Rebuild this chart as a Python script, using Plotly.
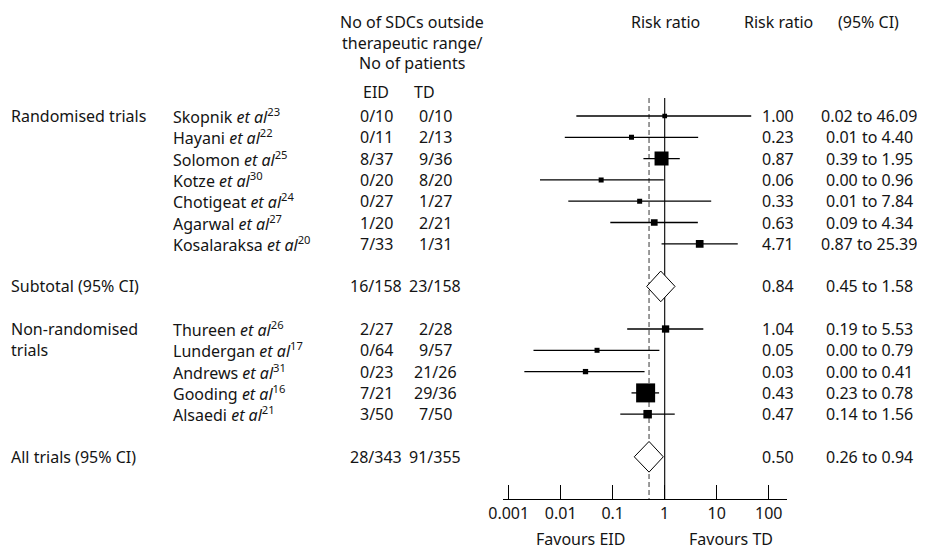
import plotly.graph_objects as go

# ---------------- data ----------------
rand_names = ["Skopnik", "Hayani", "Solomon", "Kotze", "Chotigeat", "Agarwal", "Kosalaraksa"]
rand_refs = [23, 22, 25, 30, 24, 27, 20]
rand_eid_n = [0, 0, 8, 0, 0, 1, 7]
rand_eid_N = [10, 11, 37, 20, 27, 20, 33]
rand_td_n = [0, 2, 9, 8, 1, 2, 1]
rand_td_N = [10, 13, 36, 20, 27, 21, 31]
rand_rr = [1.00, 0.23, 0.87, 0.06, 0.33, 0.63, 4.71]
rand_lo = [0.02, 0.012, 0.39, 0.004, 0.014, 0.09, 0.87]
rand_hi = [46.09, 4.40, 1.95, 0.96, 7.84, 4.34, 25.39]

nonrand_names = ["Thureen", "Lundergan", "Andrews", "Gooding", "Alsaedi"]
nonrand_refs = [26, 17, 31, 16, 21]
nonrand_eid_n = [2, 0, 0, 7, 3]
nonrand_eid_N = [27, 64, 23, 21, 50]
nonrand_td_n = [2, 9, 21, 29, 7]
nonrand_td_N = [28, 57, 26, 36, 50]
nonrand_rr = [1.04, 0.05, 0.03, 0.43, 0.47]
nonrand_lo = [0.19, 0.003, 0.002, 0.23, 0.14]
nonrand_hi = [5.53, 0.79, 0.41, 0.78, 1.56]

subtotal_counts = [16, 158, 23, 158]
subtotal_rr = [0.84, 0.45, 1.58]
total_counts = [28, 343, 91, 355]
total_rr = [0.50, 0.26, 0.94]

tick_values = [0.001, 0.01, 0.1, 1, 10, 100]
tick_labels = ["0.001", "0.01", "0.1", "1", "10", "100"]

# ---------------- style ----------------
rand_box = [4.7, 5, 14, 5, 5, 6.7, 7.7]
nonrand_box = [7.3, 5, 5.3, 19, 8.5]
FONT = "Noto Sans"
FS = 16
TXT = "#141414"
OX, OY = 8, 8               # page body margin offset
W, H = 925 - OX, 550 - OY
ROW0_PX, ROW_PX = 116, 21.3


def px_row(py):
    return (py - ROW0_PX) / ROW_PX


def px_x(px):
    return (px - OX) / W


# row layout
rand_rows = list(range(len(rand_names)))
sub_row = rand_rows[-1] + 2
nonrand_rows = [sub_row + 2 + i for i in range(len(nonrand_names))]
total_row = nonrand_rows[-1] + 2

fig = go.Figure()

annotations = []


def text(x_px, row, s, anchor="left", size=FS):
    annotations.append(dict(
        x=px_x(x_px), xref="paper", y=row, yref="y", text=s, showarrow=False,
        xanchor=anchor, yanchor="middle", borderpad=0,
        font=dict(family=FONT, size=size, color=TXT)))


def study_block(names, refs, en, eN, tn, tN, rr, lo, hi, rows, boxes):
    xs, ys = [], []
    for r, a, b in zip(rows, lo, hi):
        xs += [a, b, None]
        ys += [r, r, None]
    fig.add_trace(go.Scatter(x=xs, y=ys, mode="lines",
                             line=dict(color="black", width=1.3), hoverinfo="skip"))
    fig.add_trace(go.Scatter(x=rr, y=rows, mode="markers",
                             marker=dict(symbol="square", size=boxes, color="#000000",
                                         opacity=1, line=dict(width=0))))
    for i, r in enumerate(rows):
        text(172, r, f"{names[i]} <i>et al</i><sup>{refs[i]}</sup>")
        text(376, r, f"{en[i]}/{eN[i]}", "center")
        text(435, r, f"{tn[i]}/{tN[i]}", "center")
        text(795, r, f"{rr[i]:.2f}", "right")
        text(869, r, f"{lo[i]:.2f} to {hi[i]:.2f}", "center")


def diamond(row, counts, est, label):
    rr, lo, hi = est
    hh = 0.72
    fig.add_trace(go.Scatter(x=[lo, rr, hi, rr, lo], y=[row, row - hh, row, row + hh, row],
                             mode="lines", fill="toself", fillcolor="white",
                             line=dict(color="black", width=1), hoverinfo="skip"))
    text(10, row, label)
    text(376, row, f"{counts[0]}/{counts[1]}", "center")
    text(435, row, f"{counts[2]}/{counts[3]}", "center")
    text(795, row, f"{rr:.2f}", "right")
    text(869, row, f"{lo:.2f} to {hi:.2f}", "center")


top_row = px_row(98)
axis_row = px_row(499)

# reference lines (drawn first so marks sit on top)
fig.add_shape(type="line", xref="x", yref="y", x0=1, x1=1, y0=top_row, y1=axis_row,
              line=dict(color="black", width=1.1), layer="below")
fig.add_shape(type="line", xref="x", yref="y", x0=total_rr[0], x1=total_rr[0],
              y0=top_row, y1=axis_row,
              line=dict(color="#707070", width=1.4, dash="5px,3px"), layer="below")

study_block(rand_names, rand_refs, rand_eid_n, rand_eid_N, rand_td_n, rand_td_N,
            rand_rr, rand_lo, rand_hi, rand_rows, rand_box)
study_block(nonrand_names, nonrand_refs, nonrand_eid_n, nonrand_eid_N, nonrand_td_n,
            nonrand_td_N, nonrand_rr, nonrand_lo, nonrand_hi, nonrand_rows, nonrand_box)
diamond(sub_row, subtotal_counts, subtotal_rr, "Subtotal (95% CI)")
diamond(total_row, total_counts, total_rr, "All trials (95% CI)")

# group labels
text(10, rand_rows[0], "Randomised trials")
text(10, nonrand_rows[0], "Non-randomised")
text(10, nonrand_rows[1], "trials")

# headers
text(412, px_row(22), "No of SDCs outside", "center")
text(412, px_row(43), "therapeutic range/", "center")
text(412, px_row(63), "No of patients", "center")
text(376, px_row(92), "EID", "center")
text(424, px_row(92), "TD", "center")
text(665, px_row(22), "Risk ratio", "center")
text(778, px_row(22), "Risk ratio", "center")
text(868, px_row(22), "(95% CI)", "center")
text(580, px_row(538.5), "Favours EID", "center")
text(731, px_row(538.5), "Favours TD", "center")

fig.update_layout(
    width=W, height=H, margin=dict(l=0, r=0, t=0, b=0, autoexpand=False),
    paper_bgcolor="white", plot_bgcolor="white", showlegend=False,
    annotations=annotations,
    xaxis=dict(type="log", domain=[px_x(502.7), px_x(786.7)], range=[-3.115, 2.346],
               anchor="free", position=(550 - 499) / H,
               showline=True, linecolor="black", linewidth=1.1,
               ticks="inside", ticklen=14, tickwidth=1.1, tickcolor="black",
               tickvals=tick_values, ticktext=tick_labels,
               tickfont=dict(family=FONT, size=FS, color=TXT),
               showgrid=False, zeroline=False, fixedrange=True),
    yaxis=dict(range=[px_row(550), px_row(OY)], visible=False, showgrid=False,
               zeroline=False, fixedrange=True),
)

fig.write_html("out.html")
